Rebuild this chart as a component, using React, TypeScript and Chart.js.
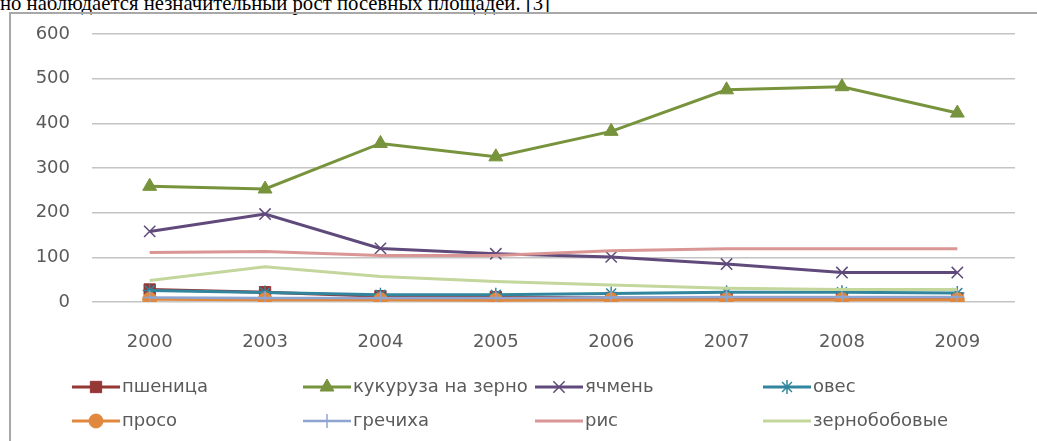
import React, { useEffect, useRef } from "react";
import { Chart, registerables } from "chart.js";
import { drawPoint } from "chart.js/helpers";

Chart.register(...registerables);

const years = ["2000", "2003", "2004", "2005", "2006", "2007", "2008", "2009"];
const yTicks = [0, 100, 200, 300, 400, 500, 600];

const wheat = [28, 22, 13, 11, 9, 8, 8, 8];
const corn = [259, 253, 355, 325, 382, 475, 482, 423];
const barley = [158, 197, 120, 108, 101, 85, 66, 66];
const oats = [26, 21, 16, 16, 19, 22, 22, 20];
const millet = [6, 5, 5, 4, 5, 5, 5, 5];
const buckwheat = [10, 9, 9, 9, 10, 11, 11, 11];
const rice = [111, 113, 104, 104, 115, 119, 119, 119];
const pulses = [48, 79, 57, 46, 38, 31, 28, 28];

const labels = ["пшеница", "кукуруза на зерно", "ячмень", "овес", "просо", "гречиха", "рис", "зернобобовые"];

const legendPlugin = {
  id: "gridLegend",
  afterDraw(chart: any) {
    const ctx = chart.ctx as CanvasRenderingContext2D;
    const cols = [72, 303, 535, 763];
    const rows = [387, 421];
    chart.data.datasets.forEach((ds: any, i: number) => {
      const x0 = cols[i % 4];
      const y = rows[Math.floor(i / 4)];
      ctx.save();
      ctx.strokeStyle = ds.borderColor;
      ctx.lineWidth = ds.borderWidth;
      ctx.beginPath();
      ctx.moveTo(x0, y);
      ctx.lineTo(x0 + 48, y);
      ctx.stroke();
      if (ds.pointRadius > 0) {
        ctx.fillStyle = ds.pointBackgroundColor;
        ctx.strokeStyle = ds.pointBorderColor;
        ctx.lineWidth = ds.pointBorderWidth;
        drawPoint(ctx, { pointStyle: ds.pointStyle, radius: ds.pointRadius, rotation: 0, borderWidth: ds.pointBorderWidth } as any, x0 + 24, y);
      }
      ctx.fillStyle = "#5a5a5a";
      ctx.font = "18px 'DejaVu Sans'";
      ctx.textBaseline = "middle";
      ctx.textAlign = "left";
      ctx.fillText(ds.label, x0 + 50, y);
      ctx.restore();
    });
  },
};

export default function App() {
  const ref = useRef<HTMLCanvasElement | null>(null);

  useEffect(() => {
    if (!ref.current) return;
    const mk = (
      label: string,
      data: number[],
      color: string,
      pointStyle: any,
      radius: number,
      fill: string,
      width = 3,
      pbw = 1
    ) => ({
      label,
      data,
      borderColor: color,
      backgroundColor: color,
      borderWidth: width,
      pointStyle,
      pointRadius: radius,
      pointHoverRadius: radius,
      pointBackgroundColor: fill,
      pointBorderColor: color,
      pointBorderWidth: pbw,
      tension: 0,
    });
    const datasets = [
      mk(labels[0], wheat, "#953735", "rect", 8, "#953735"),
      mk(labels[1], corn, "#77933C", "triangle", 8, "#77933C"),
      mk(labels[2], barley, "#604A7B", "crossRot", 8, "#604A7B", 3, 1.5),
      mk(labels[3], oats, "#31859C", "star", 7, "#31859C", 3, 1.5),
      mk(labels[4], millet, "#E0893E", "circle", 7, "#E0893E"),
      mk(labels[5], buckwheat, "#8EA5D2", "cross", 7, "#8EA5D2", 2.5, 1.5),
      mk(labels[6], rice, "#D99694", "circle", 0, "#D99694"),
      mk(labels[7], pulses, "#C3D69B", "circle", 0, "#C3D69B"),
    ].map((d, i, arr) => ({ ...d, order: arr.length - i }));

    const chart = new Chart(ref.current, {
      type: "line",
      data: { labels: years, datasets },
      options: {
        animation: false,
        responsive: true,
        maintainAspectRatio: false,
        layout: { padding: { left: 0, right: 22, top: 34, bottom: 0 } },
        plugins: { legend: { display: false }, tooltip: { enabled: false } },
        scales: {
          x: {
            offset: true,
            grid: { display: false, drawTicks: false },
            border: { display: false },
            ticks: { color: "#5a5a5a", font: { family: "DejaVu Sans", size: 18 }, padding: 30 },
            afterFit: (s: any) => {
              s.height = 139;
            },
          },
          y: {
            min: 0,
            max: 600,
            afterBuildTicks: (s: any) => {
              s.ticks = yTicks.map((v) => ({ value: v }));
            },
            grid: { color: "#c4c4c4", lineWidth: 1.5, drawTicks: false },
            border: { display: false },
            ticks: { color: "#5a5a5a", font: { family: "DejaVu Sans", size: 18 }, padding: 22 },
            afterFit: (s: any) => {
              s.width = 92;
            },
          },
        },
      },
      plugins: [legendPlugin],
    });
    return () => chart.destroy();
  }, []);

  return (
    <div style={{ position: "absolute", left: 0, top: 0, width: 1037, height: 441, overflow: "hidden", background: "#fff" }}>
      <div
        style={{
          position: "absolute",
          left: 0,
          top: -7.5,
          fontFamily: "'Liberation Serif', 'Times New Roman', serif",
          fontSize: 20.7,
          lineHeight: 1,
          whiteSpace: "nowrap",
          color: "#000",
        }}
      >
        но наблюдается незначительный рост посевных площадей. [3]
      </div>
      <div
        style={{
          position: "absolute",
          left: 9,
          top: 12,
          width: 1100,
          height: 500,
          borderLeft: "2px solid #a8a8a8",
          borderTop: "2px solid #a8a8a8",
        }}
      />
      <div style={{ position: "absolute", left: 0, top: 0, width: 1037, height: 441 }}>
        <canvas ref={ref} />
      </div>
    </div>
  );
}
